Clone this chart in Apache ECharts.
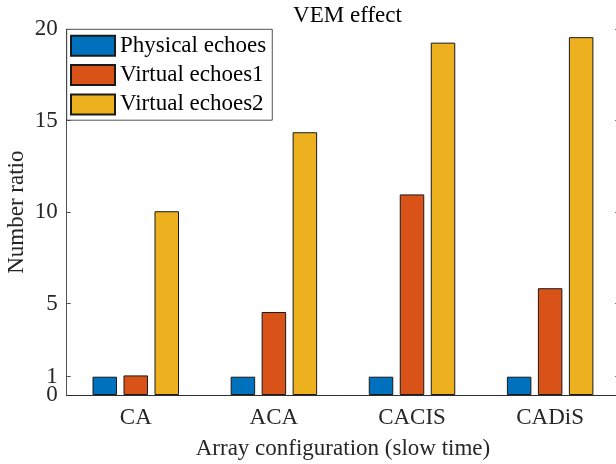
<!DOCTYPE html>
<html>
<head>
<meta charset="utf-8">
<script src="https://cdn.jsdelivr.net/npm/echarts@6/dist/echarts.min.js"></script>
<style>html,body{margin:0;padding:0;background:#fff;}#c{width:616px;height:464px;}</style>
</head>
<body>
<div id="c"></div>
<script>
const categories = ['CA', 'ACA', 'CACIS', 'CADiS'];
const seriesNames = ['Physical echoes', 'Virtual echoes1', 'Virtual echoes2'];
const physical = [1, 1, 1, 1];
const virtual1 = [1.07, 4.54, 10.97, 5.84];
const virtual2 = [10.05, 14.37, 19.27, 19.57];
const yTicks = [0, 1, 5, 10, 15, 20];
const yLabelsMain = [0, 5, 10, 15, 20];
const yLabelsExtra = [1];
const colors = ['#0072BD', '#D95319', '#EDB120'];

const FONT = '"Liberation Serif", "Times New Roman", serif';
const AX = '#262626';
const chart = echarts.init(document.getElementById('c'), null, {renderer: 'canvas'});
const values = [physical, virtual1, virtual2];

const option = {
  backgroundColor: '#fff',
  animation: false,
  title: {
    text: 'VEM effect',
    left: 342.5,
    textAlign: 'center',
    top: -1,
    textStyle: {fontFamily: FONT, fontSize: 23, fontWeight: 'normal', color: '#000'}
  },
  legend: {
    orient: 'vertical',
    left: 66.7,
    top: 29.3,
    icon: 'rect',
    itemWidth: 44,
    itemHeight: 20,
    itemGap: 6.3,
    padding: [5, 6, 4.3, 3.3],
    backgroundColor: '#fff',
    borderColor: AX,
    borderWidth: 0.8,
    textStyle: {fontFamily: FONT, fontSize: 23, color: '#000', lineHeight: 22},
    data: seriesNames,
    z: 10
  },
  grid: {left: 66.7, top: 29.3, width: 552.5, height: 365.7, outerBoundsMode: 'none', containLabel: false},
  xAxis: [{
    type: 'category',
    data: categories,
    position: 'bottom',
    z: 5,
    axisLine: {lineStyle: {color: AX, width: 0.8}},
    axisTick: {inside: true, length: 4, alignWithLabel: true, lineStyle: {color: AX, width: 0.8}},
    axisLabel: {fontFamily: FONT, fontSize: 23, color: AX, margin: 11},
    name: 'Array configuration (slow time)',
    nameLocation: 'middle',
    nameGap: 42,
    nameMoveOverlap: false,
    nameTextStyle: {fontFamily: FONT, fontSize: 23, color: AX}
  }, {
    type: 'category',
    data: categories,
    position: 'top',
    z: 5,
    axisLine: {lineStyle: {color: AX, width: 0.8}},
    axisTick: {inside: true, length: 4, alignWithLabel: true, lineStyle: {color: AX, width: 0.8}},
    axisLabel: {show: false}
  }],
  yAxis: [{
    type: 'value',
    min: 0,
    max: 20,
    position: 'left',
    z: 5,
    axisLine: {show: true, lineStyle: {color: AX, width: 0.8}},
    axisTick: {show: true, inside: true, length: 4, customValues: yTicks, lineStyle: {color: AX, width: 0.8}},
    axisLabel: {fontFamily: FONT, fontSize: 23, color: AX, margin: 9, customValues: yLabelsMain, showMinLabel: true},
    splitLine: {show: false},
    name: 'Number ratio',
    nameLocation: 'middle',
    nameGap: 38,
    nameMoveOverlap: false,
    nameTextStyle: {fontFamily: FONT, fontSize: 23, color: AX}
  }, {
    type: 'value',
    min: 0,
    max: 20,
    position: 'right',
    z: 5,
    axisLine: {show: true, lineStyle: {color: AX, width: 0.8}},
    axisTick: {show: true, inside: true, length: 4, customValues: yTicks, lineStyle: {color: AX, width: 0.8}},
    axisLabel: {show: false},
    splitLine: {show: false}
  }, {
    type: 'value',
    min: 0,
    max: 20,
    position: 'left',
    offset: 0,
    axisLine: {show: false},
    axisTick: {show: false},
    axisLabel: {fontFamily: FONT, fontSize: 23, color: AX, margin: 9, customValues: yLabelsExtra},
    splitLine: {show: false}
  }],
  series: seriesNames.map((n, i) => ({
    name: n,
    type: 'bar',
    xAxisIndex: 0,
    yAxisIndex: 0,
    data: values[i],
    barWidth: 24.5,
    barGap: '26.5%',
    itemStyle: {color: colors[i], borderColor: '#1a1a1a', borderWidth: 1}
  }))
};
chart.setOption(option);
</script>
</body>
</html>
